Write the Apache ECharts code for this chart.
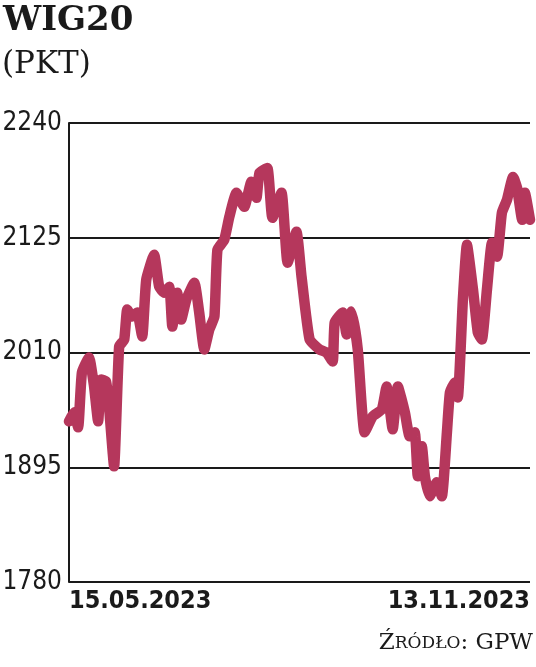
<!DOCTYPE html>
<html>
<head>
<meta charset="utf-8">
<script src="https://cdn.jsdelivr.net/npm/echarts@6/dist/echarts.min.js"></script>
<style>
html, body { margin: 0; padding: 0; background: #fff; }
#main { width: 536px; height: 667px; }
</style>
</head>
<body>
<div id="main"></div>
<script>
// days counted from 15.05.2023
var dayOffsets = [0, 2, 3.6, 5.1, 7.9, 9.9, 11.5, 12.7, 14.6, 15.8, 17.8, 19.8, 21.8, 23, 24.9, 26.9, 28.9, 30.5, 33.6, 35.6,
  37.6, 39.6, 40.8, 42.7, 44.3, 46.3, 49.5, 51.4, 53.4, 55.4, 57.4, 58.6, 61.3, 63.3, 66.1, 69.2, 72, 74, 75.2, 78.3,
  80.3, 83.9, 86.3, 89.8, 91.8, 95, 98.9, 101.7, 104.1, 104.9, 108, 109.6, 111.6, 114, 116.7, 119.9, 123.5, 125.4, 127.8, 129.8,
  132.6, 134.5, 136.5, 137.7, 139.3, 140.5, 142.4, 145.2, 147.2, 149.2, 150.4, 152.3, 153.5, 155.5, 157.1, 159.5, 161.4, 163, 165, 167,
  169, 170.9, 172.9, 175.3, 176.9, 178.9, 180, 182];
var values = [1941, 1950, 1935, 1990, 2005, 1976, 1941, 1983, 1981, 1956, 1896, 2016, 2023, 2053, 2046, 2050, 2026, 2083, 2108, 2076,
  2070, 2076, 2036, 2070, 2043, 2063, 2080, 2050, 2013, 2033, 2046, 2113, 2123, 2146, 2170, 2156, 2181, 2165, 2190, 2195,
  2145, 2170, 2100, 2131, 2086, 2023, 2013, 2010, 2001, 2040, 2050, 2028, 2051, 2013, 1930, 1946, 1953, 1976, 1933, 1976,
  1950, 1926, 1930, 1886, 1916, 1886, 1866, 1880, 1866, 1930, 1970, 1980, 1965, 2063, 2118, 2073, 2030, 2023, 2073, 2120,
  2106, 2150, 2163, 2186, 2175, 2143, 2170, 2143];
var xLabels = ['15.05.2023', '13.11.2023'];
var yTicks = [1780, 1895, 2010, 2125, 2240];

var chart = echarts.init(document.getElementById('main'));
var lastDay = dayOffsets[dayOffsets.length - 1];

var option = {
  backgroundColor: '#fff',
  animation: false,
  grid: { left: 69, right: 6, top: 123, bottom: 85, outerBoundsMode: 'none', containLabel: false },
  graphic: [
    { type: 'text', left: 3, top: 4,
      style: { text: 'WIG20', font: 'bold 34px "DejaVu Serif"', fill: '#1a1a1a' } },
    { type: 'text', left: 2, top: 49,
      style: { text: '(PKT)', font: '31px "DejaVu Serif"', fill: '#1a1a1a' } },
    { type: 'text', right: 3, top: 632,
      style: {
        text: '{b|Ź}{s|RÓDŁO}{b|: GPW}',
        rich: {
          b: { fontFamily: 'DejaVu Serif', fontSize: 23, fill: '#1a1a1a', color: '#1a1a1a' },
          s: { fontFamily: 'DejaVu Serif', fontSize: 17, fill: '#1a1a1a', color: '#1a1a1a' }
        }
      } }
  ],
  xAxis: {
    type: 'value',
    min: 0,
    max: lastDay,
    interval: lastDay,
    axisLine: { show: false },
    axisTick: { show: false },
    splitLine: { show: false },
    axisLabel: {
      margin: 7,
      color: '#1a1a1a',
      fontFamily: 'DejaVu Sans Condensed',
      fontWeight: 'bold',
      fontSize: 25,
      alignMinLabel: 'left',
      alignMaxLabel: 'right',
      formatter: function (v) { return v === 0 ? xLabels[0] : xLabels[1]; }
    }
  },
  yAxis: {
    type: 'value',
    min: yTicks[0],
    max: yTicks[yTicks.length - 1],
    axisLine: { show: true, lineStyle: { color: '#1a1a1a', width: 2 } },
    axisTick: { show: false, customValues: yTicks },
    splitLine: { show: true, lineStyle: { color: '#1a1a1a', width: 2 } },
    axisLabel: {
      customValues: yTicks,
      margin: 7,
      color: '#1a1a1a',
      fontFamily: 'DejaVu Sans Condensed',
      fontSize: 26,
      formatter: function (v) { return String(v); }
    }
  },
  series: [{
    type: 'line',
    data: dayOffsets.map(function (d, i) { return [d, values[i]]; }),
    symbol: 'none',
    smooth: 0.15,
    lineStyle: { color: '#b5375c', width: 10.5, cap: 'round', join: 'round' }
  }]
};
chart.setOption(option);
window.addEventListener('resize', function () { chart.resize(); });
</script>
</body>
</html>
